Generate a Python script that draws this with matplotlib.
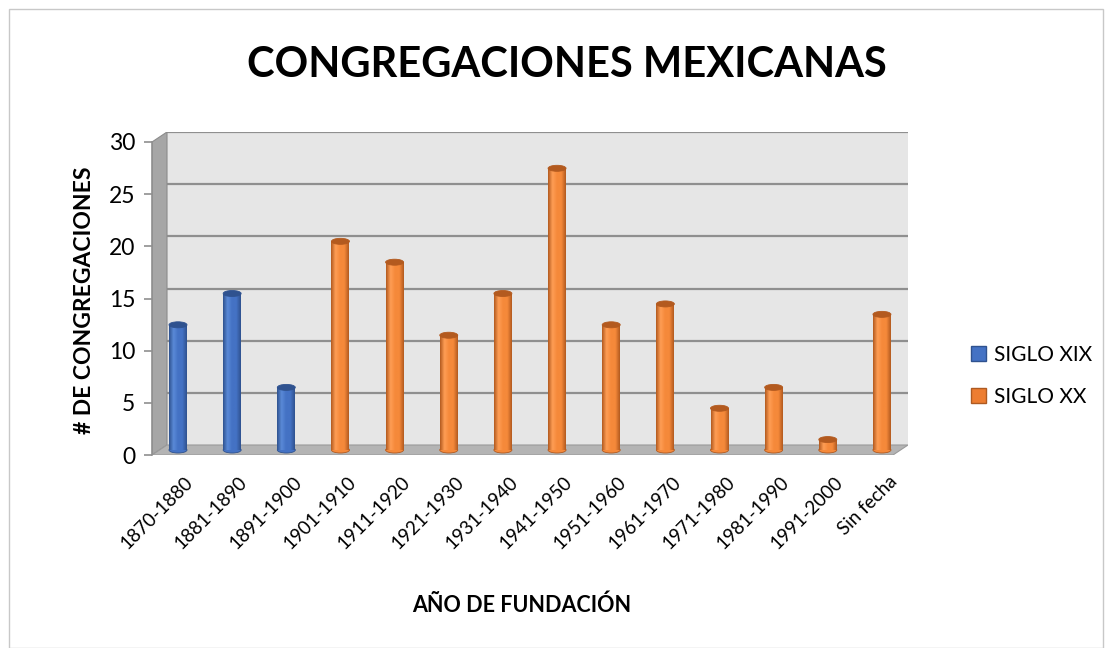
import matplotlib
matplotlib.use('Agg')
import matplotlib.pyplot as plt
import numpy as np
from matplotlib.patches import Polygon, Ellipse, Rectangle
from matplotlib.colors import LinearSegmentedColormap

# data
categorias = ['1870-1880', '1881-1890', '1891-1900', '1901-1910', '1911-1920',
              '1921-1930', '1931-1940', '1941-1950', '1951-1960', '1961-1970',
              '1971-1980', '1981-1990', '1991-2000', 'Sin fecha']
siglo_xix = [12, 15, 6, None, None, None, None, None, None, None, None, None, None, None]
siglo_xx = [None, None, None, 20, 18, 11, 15, 27, 12, 14, 4, 6, 1, 13]
series = ['SIGLO XIX', 'SIGLO XX']
yticks = [0, 5, 10, 15, 20, 25, 30]

plt.rcParams['font.family'] = ['Lato', 'DejaVu Sans']

fig = plt.figure(figsize=(11.12, 6.48), dpi=100)
W, H = 1112.0, 648.0

# outer frame
fig.patches.append(Rectangle((9 / W, 0), 1094 / W, 639 / H, transform=fig.transFigure,
                             fill=False, edgecolor='#c8c8c8', linewidth=1.0))

left_px, right_px, top_px, bot_px = 152, 908, 132, 455
ax = fig.add_axes([left_px / W, 1 - bot_px / H, (right_px - left_px) / W, (bot_px - top_px) / H])
step = 54.15
x0 = (left_px - 178) / step
x1 = (right_px - 178) / step
unit = (455 - 142) / 30.0
ymax = (bot_px - top_px) / unit
ax.set_xlim(x0, x1)
ax.set_ylim(0, ymax)
for s in ax.spines.values():
    s.set_visible(False)

dx = 15 / step
dy = 10 / unit

# walls and floor
ax.add_patch(Polygon([(x0 + dx, dy), (x1, dy), (x1, 30 + dy), (x0 + dx, 30 + dy)],
                     closed=True, facecolor='#e6e6e6', edgecolor='none', zorder=0))
ax.add_patch(Polygon([(x0, 0), (x0 + dx, dy), (x0 + dx, 30 + dy), (x0, 30)],
                     closed=True, facecolor='#a6a6a6', edgecolor='#8c8c8c', linewidth=0.8, zorder=1))
ax.add_patch(Polygon([(x0, 0), (x1 - dx, 0), (x1, dy), (x0 + dx, dy)],
                     closed=True, facecolor='#b4b4b4', edgecolor='#9a9a9a', linewidth=0.8, zorder=1))
for t in yticks[1:]:
    ax.plot([x0 + dx, x1], [t + dy, t + dy], color='#8f8f8f', linewidth=1.6, zorder=0.5)

ax.set_yticks(yticks)
ax.set_yticklabels([str(t) for t in yticks], fontsize=16.5)
ax.tick_params(axis='y', length=6, color='#8f8f8f', width=1.2, pad=6)
ax.plot([x0, x0], [0, 30], color='#8f8f8f', linewidth=1.2, zorder=1.5, clip_on=False)

xs = np.arange(len(categorias))
ax.set_xticks(xs + 0.12)
ax.set_xticklabels(categorias, rotation=45, ha='right', va='top', rotation_mode='anchor', fontsize=13.5)
ax.tick_params(axis='x', length=0, pad=13)

bw = 18 / step
eh = 6 / unit


def cylinder(cx, v, base, dark, light):
    cmap = LinearSegmentedColormap.from_list('c', [dark, light, base, base, dark])
    grad = np.linspace(0, 1, 64).reshape(1, -1)
    rects = ax.bar([cx], [v], width=bw, bottom=dy / 2, color=base, edgecolor='none', zorder=3)
    r = rects[0]
    im = ax.imshow(grad, cmap=cmap, extent=(cx - bw / 2, cx + bw / 2, dy / 2, v + dy / 2),
                   aspect='auto', zorder=3.1, interpolation='bilinear')
    im.set_clip_path(r)
    ax.add_patch(Ellipse((cx, dy / 2), bw, eh, facecolor=base, edgecolor=dark, linewidth=0.6, zorder=2.9))
    ax.add_patch(Ellipse((cx, v + dy / 2), bw, eh, facecolor=dark, edgecolor=dark, linewidth=0.6, zorder=3.2))


blue = ('#4472c4', '#2f528f', '#5a8ad8')
orange = ('#f5893a', '#b35a1f', '#ff9e55')
for i, v in enumerate(siglo_xix):
    if v is not None:
        cylinder(xs[i], v, *blue)
for i, v in enumerate(siglo_xx):
    if v is not None:
        cylinder(xs[i], v, *orange)

ax.set_xlim(x0, x1)
ax.set_ylim(0, ymax)

ax.set_ylabel('# DE CONGREGACIONES', fontsize=16.5, fontweight='bold')
ax.yaxis.set_label_coords((85 - left_px) / (right_px - left_px), (bot_px - 300) / (bot_px - top_px))
ax.set_xlabel('AÑO DE FUNDACIÓN', fontsize=15.5, fontweight='bold')
ax.xaxis.set_label_coords((522 - left_px) / (right_px - left_px), -(594 - bot_px) / (bot_px - top_px))
ax.xaxis.label.set_verticalalignment('top')
ax.yaxis.label.set_verticalalignment('center')

fig.text(567 / W, 1 - 65 / H, 'CONGREGACIONES MEXICANAS', ha='center', va='center',
         fontsize=30, fontweight='bold')

# legend
handles = [Rectangle((0, 0), 1, 1, facecolor='#4472c4', edgecolor='#2f528f'),
           Rectangle((0, 0), 1, 1, facecolor='#ed7d31', edgecolor='#ae5a21')]
fig.legend(handles, series, loc='center left', bbox_to_anchor=(952 / W, 1 - 376 / H),
           frameon=False, fontsize=15, handlelength=0.75, handleheight=0.75,
           handletextpad=0.35, labelspacing=1.05)

fig.savefig('out.png', dpi=100)
